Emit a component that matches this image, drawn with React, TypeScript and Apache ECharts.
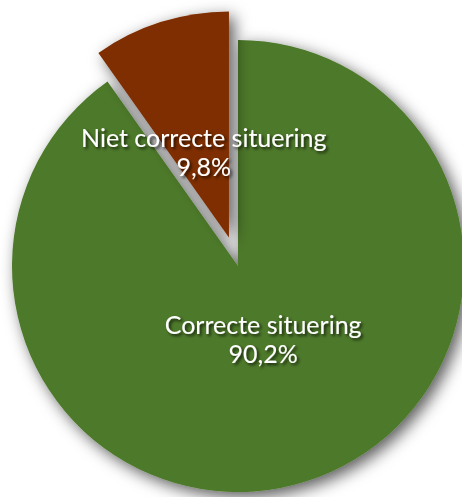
import React, { useEffect, useRef } from "react";
import * as echarts from "echarts";

const categories = ["Correcte situering", "Niet correcte situering"];
const values = [90.2, 9.8];
const colors = ["#4D792B", "#7E2D01"];

export default function App() {
  const ref = useRef<HTMLDivElement>(null);
  useEffect(() => {
    if (!ref.current) return;
    const chart = echarts.init(ref.current, null, { renderer: "svg" });
    chart.setOption({
      animation: false,
      backgroundColor: "#ffffff",
      series: [
        {
          type: "pie",
          center: [238, 266],
          radius: [0, 226],
          startAngle: 90,
          clockwise: true,
          selectedMode: "multiple",
          selectedOffset: 30,
          data: categories.map((name, i) => ({
            name,
            value: values[i],
            selected: i === 1,
            itemStyle: { color: colors[i] },
          })),
          itemStyle: {
            shadowColor: "rgba(0,0,0,0.65)",
            shadowBlur: 16,
            shadowOffsetX: 5,
            shadowOffsetY: 5,
          },
          emphasis: { disabled: true },
          label: {
            show: true,
            position: "inside",
            color: "#ffffff",
            fontFamily: "Lato",
            fontSize: 25,
            lineHeight: 29,
            align: "center",
            textShadowColor: "rgba(0,0,0,0.7)",
            textShadowBlur: 3,
            textShadowOffsetX: 2,
            textShadowOffsetY: 2,
            formatter: (p: any) =>
              p.name + "\n" + String(p.value).replace(".", ",") + "%",
          },
          labelLine: { show: false },
          labelLayout: (p: any) =>
            p.dataIndex === 0 ? { dx: -10, dy: -38 } : { dx: 10, dy: 25 },
        },
      ],
    });
    return () => chart.dispose();
  }, []);
  return (
    <div
      ref={ref}
      style={{ position: "absolute", left: 0, top: 0, width: 462, height: 497 }}
    />
  );
}
